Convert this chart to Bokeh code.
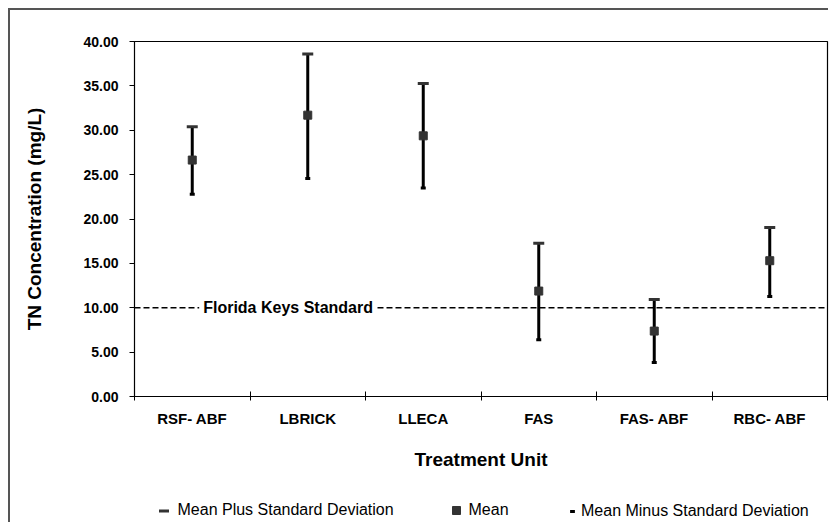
from bokeh.plotting import figure
from bokeh.layouts import column
from bokeh.models import (Range1d, FixedTicker, NumeralTickFormatter, Span, Label,
                          Legend, LegendItem, ColumnDataSource)
from bokeh.embed import file_html
from bokeh.resources import INLINE

categories = ["RSF- ABF", "LBRICK", "LLECA", "FAS", "FAS- ABF", "RBC- ABF"]
mean_vals = [26.64, 31.70, 29.37, 11.88, 7.37, 15.30]
plus_sd = [30.39, 38.58, 35.27, 17.28, 10.93, 19.04]
minus_sd = [22.80, 24.56, 23.48, 6.39, 3.83, 11.27]
standard_value = 10.0
standard_label = "Florida Keys Standard"
y_ticks = [0, 5, 10, 15, 20, 25, 30, 35, 40]
legend_labels = ["Mean Plus Standard Deviation", "Mean", "Mean Minus Standard Deviation"]

xpos = [i + 0.5 for i in range(len(categories))]
src = ColumnDataSource(dict(x=xpos, mean=mean_vals, hi=plus_sd, lo=minus_sd))

FONT = "Liberation Sans"
HI_STYLE = dict(marker="dash", size=11, line_width=3, line_color="#333333")
MEAN_STYLE = dict(marker="square", size=8, fill_color="#333333", line_color="#333333")
LO_STYLE = dict(marker="dash", size=5, line_width=3, line_color="black")

p = figure(width=820, height=480, output_backend="svg", toolbar_location=None,
           x_range=Range1d(0, len(categories)), y_range=Range1d(0, 40),
           min_border_left=124, min_border_right=3, min_border_top=31,
           min_border_bottom=94)
p.xgrid.visible = False
p.ygrid.visible = False
p.outline_line_color = "black"
p.outline_line_width = 1.2
p.background_fill_color = "white"
p.border_fill_color = "white"

# y axis
ya = p.yaxis[0]
ya.ticker = FixedTicker(ticks=y_ticks, minor_ticks=[])
ya.formatter = NumeralTickFormatter(format="0.00")
ya.major_tick_in = 0
ya.major_tick_out = 5
ya.major_tick_line_color = "black"
ya.axis_line_color = "black"
ya.major_label_text_font = FONT
ya.major_label_text_font_style = "bold"
ya.major_label_text_font_size = "14px"
ya.major_label_text_color = "black"
ya.major_label_standoff = 11
ya.axis_label = "TN Concentration (mg/L)"
ya.axis_label_text_font = FONT
ya.axis_label_text_font_style = "bold"
ya.axis_label_text_font_size = "19px"
ya.axis_label_text_color = "black"
ya.axis_label_standoff = 35

# x axis
xa = p.xaxis[0]
xa.ticker = FixedTicker(ticks=xpos, minor_ticks=list(range(len(categories) + 1)))
xa.major_label_overrides = {x: c for x, c in zip(xpos, categories)}
xa.major_tick_in = 0
xa.major_tick_out = 0
xa.minor_tick_in = 5
xa.minor_tick_out = 4
xa.minor_tick_line_color = "black"
xa.axis_line_color = "black"
xa.major_label_text_font = FONT
xa.major_label_text_font_style = "bold"
xa.major_label_text_font_size = "15px"
xa.major_label_text_color = "black"
xa.major_label_standoff = 9
xa.axis_label = "Treatment Unit"
xa.axis_label_text_font = FONT
xa.axis_label_text_font_style = "bold"
xa.axis_label_text_font_size = "19px"
xa.axis_label_text_color = "black"
xa.axis_label_standoff = 19

# standard line
p.add_layout(Span(location=standard_value, dimension="width", line_color="black",
                  line_width=1.5, line_dash="6 3"))
p.add_layout(Label(x=0.56, y=standard_value, text=standard_label, text_font=FONT,
                   text_font_style="bold", text_font_size="16px", text_color="black",
                   text_baseline="middle", background_fill_color="white",
                   padding=4))

# whiskers
p.segment(x0="x", x1="x", y0="lo", y1="hi", source=src, line_color="black", line_width=3)
p.scatter("x", "hi", source=src, **HI_STYLE)
p.scatter("x", "mean", source=src, **MEAN_STYLE)
p.scatter("x", "lo", source=src, **LO_STYLE)

# legend strip (same frame borders as the main plot; its data lie outside its view)
q = figure(width=820, height=34, output_backend="svg", toolbar_location=None,
           x_range=Range1d(0, len(categories)), y_range=Range1d(0, 1),
           min_border_left=124, min_border_right=3, min_border_top=0,
           min_border_bottom=0, x_axis_location=None, y_axis_location=None)
q.xgrid.visible = False
q.ygrid.visible = False
q.outline_line_color = None
q.background_fill_color = "white"
q.border_fill_color = "white"
lr_hi = q.scatter("x", "hi", source=src, **HI_STYLE)
lr_mean = q.scatter("x", "mean", source=src, **MEAN_STYLE)
lr_lo = q.scatter("x", "lo", source=src, **LO_STYLE)

legend_specs = [(legend_labels[0], lr_hi, 25, 16.5, 1.5, 2),
                (legend_labels[1], lr_mean, 20, 311.5, 4, 3),
                (legend_labels[2], lr_lo, 12, 432, 4.5, 3)]
for lab, r, gsize, lx, ly, stand in legend_specs:
    lg = Legend(items=[LegendItem(label=lab, renderers=[r])], location=(lx, ly),
                orientation="horizontal", padding=0, margin=0,
                glyph_width=gsize, glyph_height=gsize, label_standoff=stand,
                border_line_color=None, background_fill_alpha=0, label_text_font=FONT,
                label_text_font_size="16px", label_text_color="black")
    q.add_layout(lg, "center")

layout = column(p, q, spacing=0)
layout.styles = {"margin-left": "10px", "margin-top": "10px",
                 "box-shadow": "-2px -2px 0 0 #555555"}

open("out.html", "w").write(file_html(layout, INLINE))
